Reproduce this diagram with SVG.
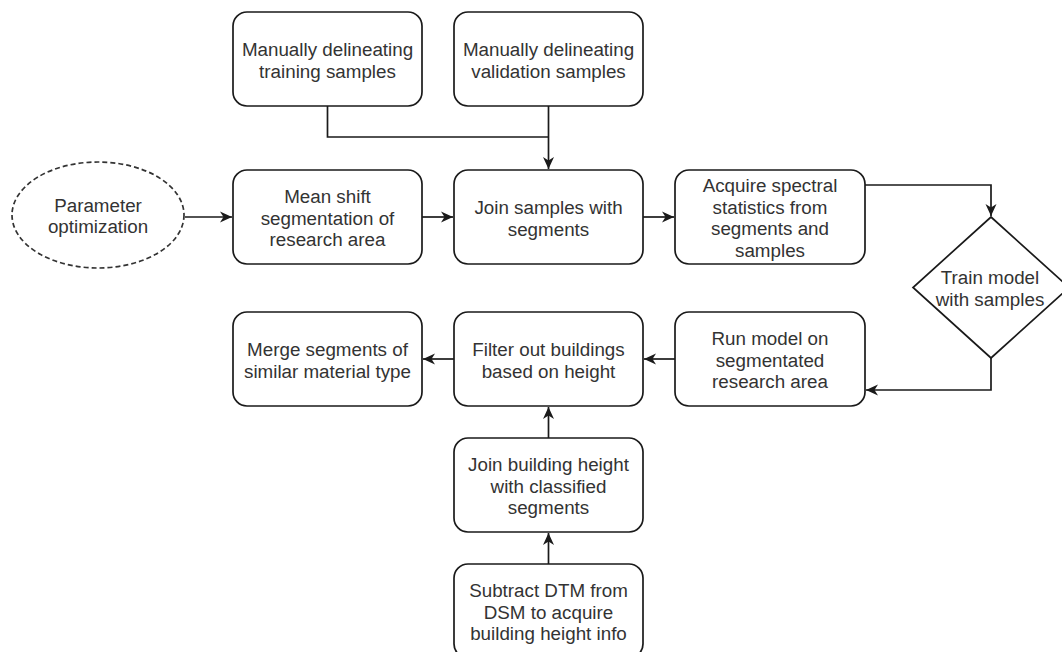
<svg xmlns="http://www.w3.org/2000/svg" width="1062" height="652" viewBox="0 0 1062 652">
<style>
.box{fill:#ffffff;stroke:#1a1a1a;stroke-width:1.7}
.dash{fill:#ffffff;stroke:#333333;stroke-width:1.7;stroke-dasharray:5 3}
.edge{fill:none;stroke:#1a1a1a;stroke-width:1.7}
text{font-family:"Liberation Sans",Arial,sans-serif;font-size:18.8px;fill:#333333;text-anchor:middle}
</style>
<defs>
<marker id="arr" markerUnits="userSpaceOnUse" markerWidth="14" markerHeight="14" viewBox="0 0 14 14" refX="12" refY="7" orient="auto">
<path d="M0,1.5 L12,7 L0,12.5 L3.5,7 z" fill="#1a1a1a"/>
</marker>
</defs>
<rect width="1062" height="652" fill="#ffffff"/>
<g id="connectors">
<path class="edge" d="M327.5,106 V137 H548.5"/>
<path class="edge" d="M548.5,106 V169" marker-end="url(#arr)"/>
<path class="edge" d="M185,217 H232" marker-end="url(#arr)"/>
<path class="edge" d="M422,217 H453" marker-end="url(#arr)"/>
<path class="edge" d="M643,217 H674" marker-end="url(#arr)"/>
<path class="edge" d="M865,185 H991 V216" marker-end="url(#arr)"/>
<path class="edge" d="M991,358 V390 H866" marker-end="url(#arr)"/>
<path class="edge" d="M675,359 H644" marker-end="url(#arr)"/>
<path class="edge" d="M454,359 H423" marker-end="url(#arr)"/>
<path class="edge" d="M548.5,438 V407" marker-end="url(#arr)"/>
<path class="edge" d="M548.5,564 V533" marker-end="url(#arr)"/>
</g>
<g id="n-training">
<rect class="box" x="233" y="12" width="189" height="94" rx="14"/>
<text x="327.5" y="56">Manually delineating</text>
<text x="327.5" y="77.5">training samples</text>
</g>
<g id="n-validation">
<rect class="box" x="454" y="12" width="189" height="94" rx="14"/>
<text x="548.5" y="56">Manually delineating</text>
<text x="548.5" y="77.5">validation samples</text>
</g>
<g id="n-param">
<ellipse class="dash" cx="98" cy="215" rx="86" ry="53"/>
<text x="98" y="211.5">Parameter</text>
<text x="98" y="233">optimization</text>
</g>
<g id="n-meanshift">
<rect class="box" x="233" y="170" width="189" height="94" rx="14"/>
<text x="327.5" y="203">Mean shift</text>
<text x="327.5" y="224.5">segmentation of</text>
<text x="327.5" y="246">research area</text>
</g>
<g id="n-joinsamples">
<rect class="box" x="454" y="170" width="189" height="94" rx="14"/>
<text x="548.5" y="214">Join samples with</text>
<text x="548.5" y="235.5">segments</text>
</g>
<g id="n-acquire">
<rect class="box" x="675" y="170" width="190" height="94" rx="14"/>
<text x="770" y="192.3">Acquire spectral</text>
<text x="770" y="213.8">statistics from</text>
<text x="770" y="235.3">segments and</text>
<text x="770" y="256.8">samples</text>
</g>
<g id="n-train">
<path class="box" d="M991,217 L1069,287.5 L991,358 L913,287.5 Z"/>
<text x="990" y="284">Train model</text>
<text x="990" y="305.5">with samples</text>
</g>
<g id="n-run">
<rect class="box" x="675" y="312" width="190" height="94" rx="14"/>
<text x="770" y="345">Run model on</text>
<text x="770" y="366.5">segmentated</text>
<text x="770" y="388">research area</text>
</g>
<g id="n-filter">
<rect class="box" x="454" y="312" width="189" height="94" rx="14"/>
<text x="548.5" y="356">Filter out buildings</text>
<text x="548.5" y="377.5">based on height</text>
</g>
<g id="n-merge">
<rect class="box" x="233" y="312" width="189" height="94" rx="14"/>
<text x="327.5" y="356">Merge segments of</text>
<text x="327.5" y="377.5">similar material type</text>
</g>
<g id="n-joinheight">
<rect class="box" x="454" y="438" width="189" height="94" rx="14"/>
<text x="548.5" y="471">Join building height</text>
<text x="548.5" y="492.5">with classified</text>
<text x="548.5" y="514">segments</text>
</g>
<g id="n-subtract">
<rect class="box" x="454" y="564" width="189" height="94" rx="14"/>
<text x="548.5" y="597">Subtract DTM from</text>
<text x="548.5" y="618.5">DSM to acquire</text>
<text x="548.5" y="640">building height info</text>
</g>
</svg>
